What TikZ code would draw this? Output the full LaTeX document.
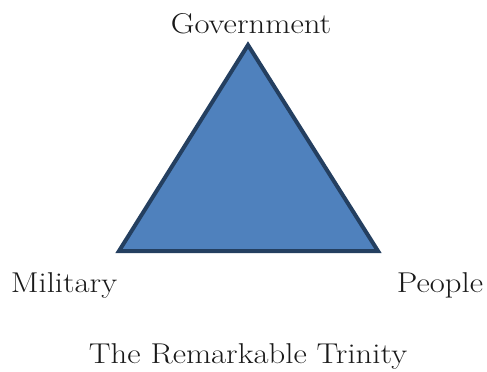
\documentclass[tikz,border=0pt]{standalone}
\definecolor{trifill}{HTML}{4F81BD}
\definecolor{triline}{HTML}{243F60}
\begin{document}
\begin{tikzpicture}[x=0.75pt,y=-0.75pt,
  lbl/.style={font=\fontsize{21.5}{25}\selectfont, text=black!90, inner sep=0pt, anchor=base, xscale=1.14}]
\useasboundingbox (0,0) rectangle (487,372);
\coordinate (top) at (248,45);
\coordinate (bl) at (119,251);
\coordinate (br) at (378,251);
\filldraw[fill=trifill, draw=triline, line width=3pt, line join=miter] (top) -- (bl) -- (br) -- cycle;
\node[lbl] (gov) at (251,33) {Government};
\node[lbl] (mil) at (64,292) {Military};
\node[lbl] (peo) at (440,292) {People};
\node[lbl] (title) at (248,363) {The Remarkable Trinity};
\end{tikzpicture}
\end{document}
